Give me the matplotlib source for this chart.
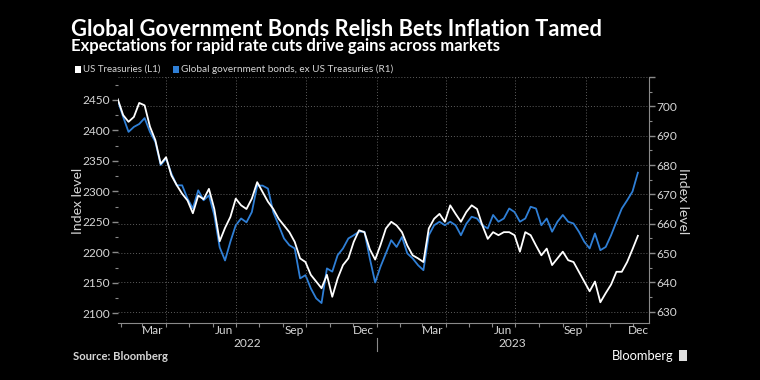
import numpy as np
import pandas as pd
import matplotlib
matplotlib.use('Agg')
import matplotlib.pyplot as plt
from matplotlib import font_manager as fm
from matplotlib.patches import Rectangle

# ---------------- data ----------------
dates = pd.date_range('2022-01-28', periods=98, freq='7D')

us_treasuries = [
    2451, 2425, 2414, 2422, 2445, 2441, 2406, 2384, 2345, 2356,
    2326, 2310, 2296, 2285, 2264, 2293, 2287, 2304, 2271, 2218,
    2240, 2258, 2288, 2277, 2271, 2288, 2315, 2299, 2283, 2271,
    2255, 2244, 2233, 2217, 2190, 2184, 2163, 2152, 2141, 2163,
    2127, 2157, 2179, 2190, 2217, 2236, 2233, 2205, 2188, 2212,
    2239, 2250, 2244, 2233, 2211, 2195, 2190, 2184, 2239, 2255,
    2263, 2250, 2277, 2263, 2250, 2266, 2277, 2271, 2244, 2222,
    2233, 2228, 2233, 2233, 2228, 2201, 2233, 2228, 2211, 2195,
    2206, 2179, 2190, 2201, 2187, 2184, 2168, 2152, 2136, 2152,
    2118, 2133, 2147, 2168, 2168, 2184, 2205, 2227,
]

global_ex_us = [
    702.0, 696.4, 691.3, 693.0, 694.0, 696.0, 691.3, 687.9, 680.0, 682.2,
    677.1, 673.1, 673.1, 668.6, 665.2, 671.4, 668.0, 669.7, 662.9, 652.0,
    647.5, 653.9, 659.5, 661.8, 660.5, 664.0, 673.0, 673.0, 672.0, 664.0,
    659.5, 655.0, 652.7, 651.6, 641.4, 642.5, 638.0, 634.6, 633.0, 644.8,
    643.7, 649.3, 651.6, 655.0, 656.1, 657.3, 657.3, 648.2, 640.0, 645.4,
    649.9, 654.4, 652.1, 655.5, 649.9, 648.2, 645.9, 644.2, 656.1, 659.5,
    660.7, 659.5, 660.7, 659.5, 656.1, 660.0, 662.4, 661.8, 659.5, 658.4,
    663.0, 660.7, 661.8, 665.2, 664.0, 660.7, 661.8, 665.8, 665.2, 659.5,
    661.8, 657.3, 660.7, 663.0, 660.7, 660.1, 657.3, 653.9, 651.6, 656.7,
    651.0, 652.1, 656.1, 660.7, 665.2, 668.0, 671.0, 677.4,
]

month_labels = ['Mar', 'Jun', 'Sep', 'Dec', 'Mar', 'Jun', 'Sep', 'Dec']
month_label_dates = ['2022-03-15', '2022-06-15', '2022-09-15', '2022-12-15',
                     '2023-03-15', '2023-06-15', '2023-09-15', '2023-12-08']
year_labels = ['2022', '2023']
left_ticks = [2100, 2150, 2200, 2250, 2300, 2350, 2400, 2450]
right_ticks = [630, 640, 650, 660, 670, 680, 690, 700, 710]
right_tick_labels = ['630', '640', '650', '660', '670', '680', '690', '700', '']

title = 'Global Government Bonds Relish Bets Inflation Tamed'
subtitle = 'Expectations for rapid rate cuts drive gains across markets'
legend_1 = 'US Treasuries (L1)'
legend_2 = 'Global government bonds, ex US Treasuries (R1)'
source = 'Source: Bloomberg'

# ---------------- style ----------------
avail = {f.name for f in fm.fontManager.ttflist}
MAIN = 'Lato' if 'Lato' in avail else 'DejaVu Sans'
FONT = [MAIN, 'DejaVu Sans']
plt.rcParams['font.family'] = FONT

BG = '#000000'
WHITE = '#ffffff'
BLUE = '#2f7fd6'
TXT = '#d6d6d6'
GRID = '#5e5e5e'
SPINE = '#8a8a8a'

W, H = 760, 380
fig = plt.figure(figsize=(7.6, 3.8), dpi=100, facecolor=BG)

def fx(px):
    return px / W

def fy(py):
    return 1 - py / H

ax_l, ax_r, ax_t, ax_b = 117.8, 648.6, 77.0, 323.3
ax = fig.add_axes([fx(ax_l), fy(ax_b), fx(ax_r - ax_l), (ax_b - ax_t) / H])
ax2 = ax.twinx()
ax.set_zorder(ax2.get_zorder() + 1)
ax.patch.set_visible(False)
ax2.patch.set_facecolor(BG)

ax2.plot(dates, global_ex_us, color=BLUE, lw=1.3, zorder=3)
ax.plot(dates, us_treasuries, color=WHITE, lw=1.3, zorder=4)

ax.set_xlim(pd.Timestamp('2022-01-28'), pd.Timestamp('2023-12-22'))
ax.set_ylim(2083.5, 2487.5)
ax2.set_ylim(626.1, 710)

TICK_FS = 8.6

# y axes
ax.set_yticks(left_ticks)
ax.set_yticks(np.arange(2100, 2476, 25), minor=True)
ax2.set_yticks(right_ticks)
ax2.set_yticklabels(right_tick_labels)
ax2.set_yticks(np.arange(630, 711, 5), minor=True)
for a in (ax, ax2):
    a.tick_params(axis='y', which='major', length=4, width=1, color=SPINE,
                  labelcolor=TXT, labelsize=TICK_FS, pad=1.5)
    a.tick_params(axis='y', which='minor', length=2, width=0.8, color=SPINE)
ax2.yaxis.grid(True, which='major', color=GRID, lw=0.7, ls=(0, (1, 2)))
ax.yaxis.grid(False)

# x axis
month_starts = pd.date_range('2022-02-01', '2023-12-01', freq='MS')
quarter_lines = pd.to_datetime(['2022-04-01', '2022-07-01', '2022-10-01', '2023-01-01',
                                '2023-04-01', '2023-07-01', '2023-10-01'])
ax.set_xticks(quarter_lines)
ax.set_xticklabels([])
ax.set_xticks(month_starts, minor=True)
ax.xaxis.grid(True, which='major', color=GRID, lw=0.7, ls=(0, (1, 2)))
for a in (ax, ax2):
    a.tick_params(axis='x', which='both', length=3, width=0.8, color=SPINE)

xt = ax.get_xaxis_transform()
span = ax_b - ax_t
for lab, d in zip(month_labels, month_label_dates):
    ax.text(pd.Timestamp(d), -(331 - ax_b) / span, lab, transform=xt,
            ha='center', va='center', color=TXT, fontsize=TICK_FS, clip_on=False)
x0, xs, x1 = pd.Timestamp('2022-01-28'), pd.Timestamp('2023-01-01'), pd.Timestamp('2023-12-22')
year_centers = [x0 + (xs - x0) / 2, xs + (x1 - xs) / 2]
for lab, d in zip(year_labels, year_centers):
    ax.text(d, -(343.5 - ax_b) / span, lab, transform=xt,
            ha='center', va='center', color=TXT, fontsize=TICK_FS, clip_on=False)
ax.plot([xs, xs], [-(337.5 - ax_b) / span, -(350.5 - ax_b) / span],
        transform=xt, color=SPINE, lw=0.8, clip_on=False)

for a in (ax, ax2):
    for s in ('top', 'left'):
        a.spines[s].set_visible(False)
    a.spines['bottom'].set_color(SPINE)
    a.spines['right'].set_color(SPINE)
ax.spines['right'].set_visible(False)
ax2.spines['bottom'].set_visible(False)

# ---------------- texts ----------------
fig.canvas.draw()
renderer = fig.canvas.get_renderer()

def fit(t, target, vertical=False):
    bb = t.get_window_extent(renderer)
    w = bb.height if vertical else bb.width
    t.set_fontsize(t.get_fontsize() * target / w)

t_yl = fig.text(fx(78.3), fy(201), 'Index level', rotation=90, ha='center', va='center',
                color=TXT, fontsize=10)
t_yr = fig.text(fx(683), fy(201), 'Index level', rotation=270, ha='center', va='center',
                color=TXT, fontsize=10)
t_title = fig.text(fx(71), fy(35.5), title, color=WHITE, fontsize=16,
                   fontweight='bold', ha='left', va='baseline')
t_sub = fig.text(fx(71), fy(51), subtitle, color=WHITE, fontsize=12,
                 fontweight='bold', ha='left', va='baseline')
t_l1 = fig.text(fx(82.6), fy(72), legend_1, color=TXT, fontsize=9,
                ha='left', va='baseline')
t_l2 = fig.text(fx(180.6), fy(72), legend_2, color=TXT, fontsize=9,
                ha='left', va='baseline')
t_src = fig.text(fx(72.7), fy(360.5), source, color=TXT, fontsize=8,
                 fontweight='bold', ha='left', va='baseline')
t_bb = fig.text(fx(611.7), fy(360), 'Bloomberg', color=WHITE, fontsize=11,
                ha='left', va='baseline')
for t, target in ((t_title, 533), (t_sub, 427), (t_l1, 77.5), (t_l2, 211),
                  (t_src, 96), (t_bb, 62)):
    fit(t, target)
fit(t_yl, 66, vertical=True)
fit(t_yr, 66, vertical=True)

fig.patches.append(Rectangle((fx(75), fy(72.5)), fx(6), 6.5 / H, transform=fig.transFigure,
                             facecolor=WHITE, edgecolor='none'))
fig.patches.append(Rectangle((fx(173), fy(72.5)), fx(6), 6.5 / H, transform=fig.transFigure,
                             facecolor=BLUE, edgecolor='none'))
fig.patches.append(Rectangle((fx(678.5), fy(361)), fx(8), 11 / H, transform=fig.transFigure,
                             facecolor='#e0e0e0', edgecolor='none'))

fig.savefig('out.png', dpi=100, facecolor=BG)
